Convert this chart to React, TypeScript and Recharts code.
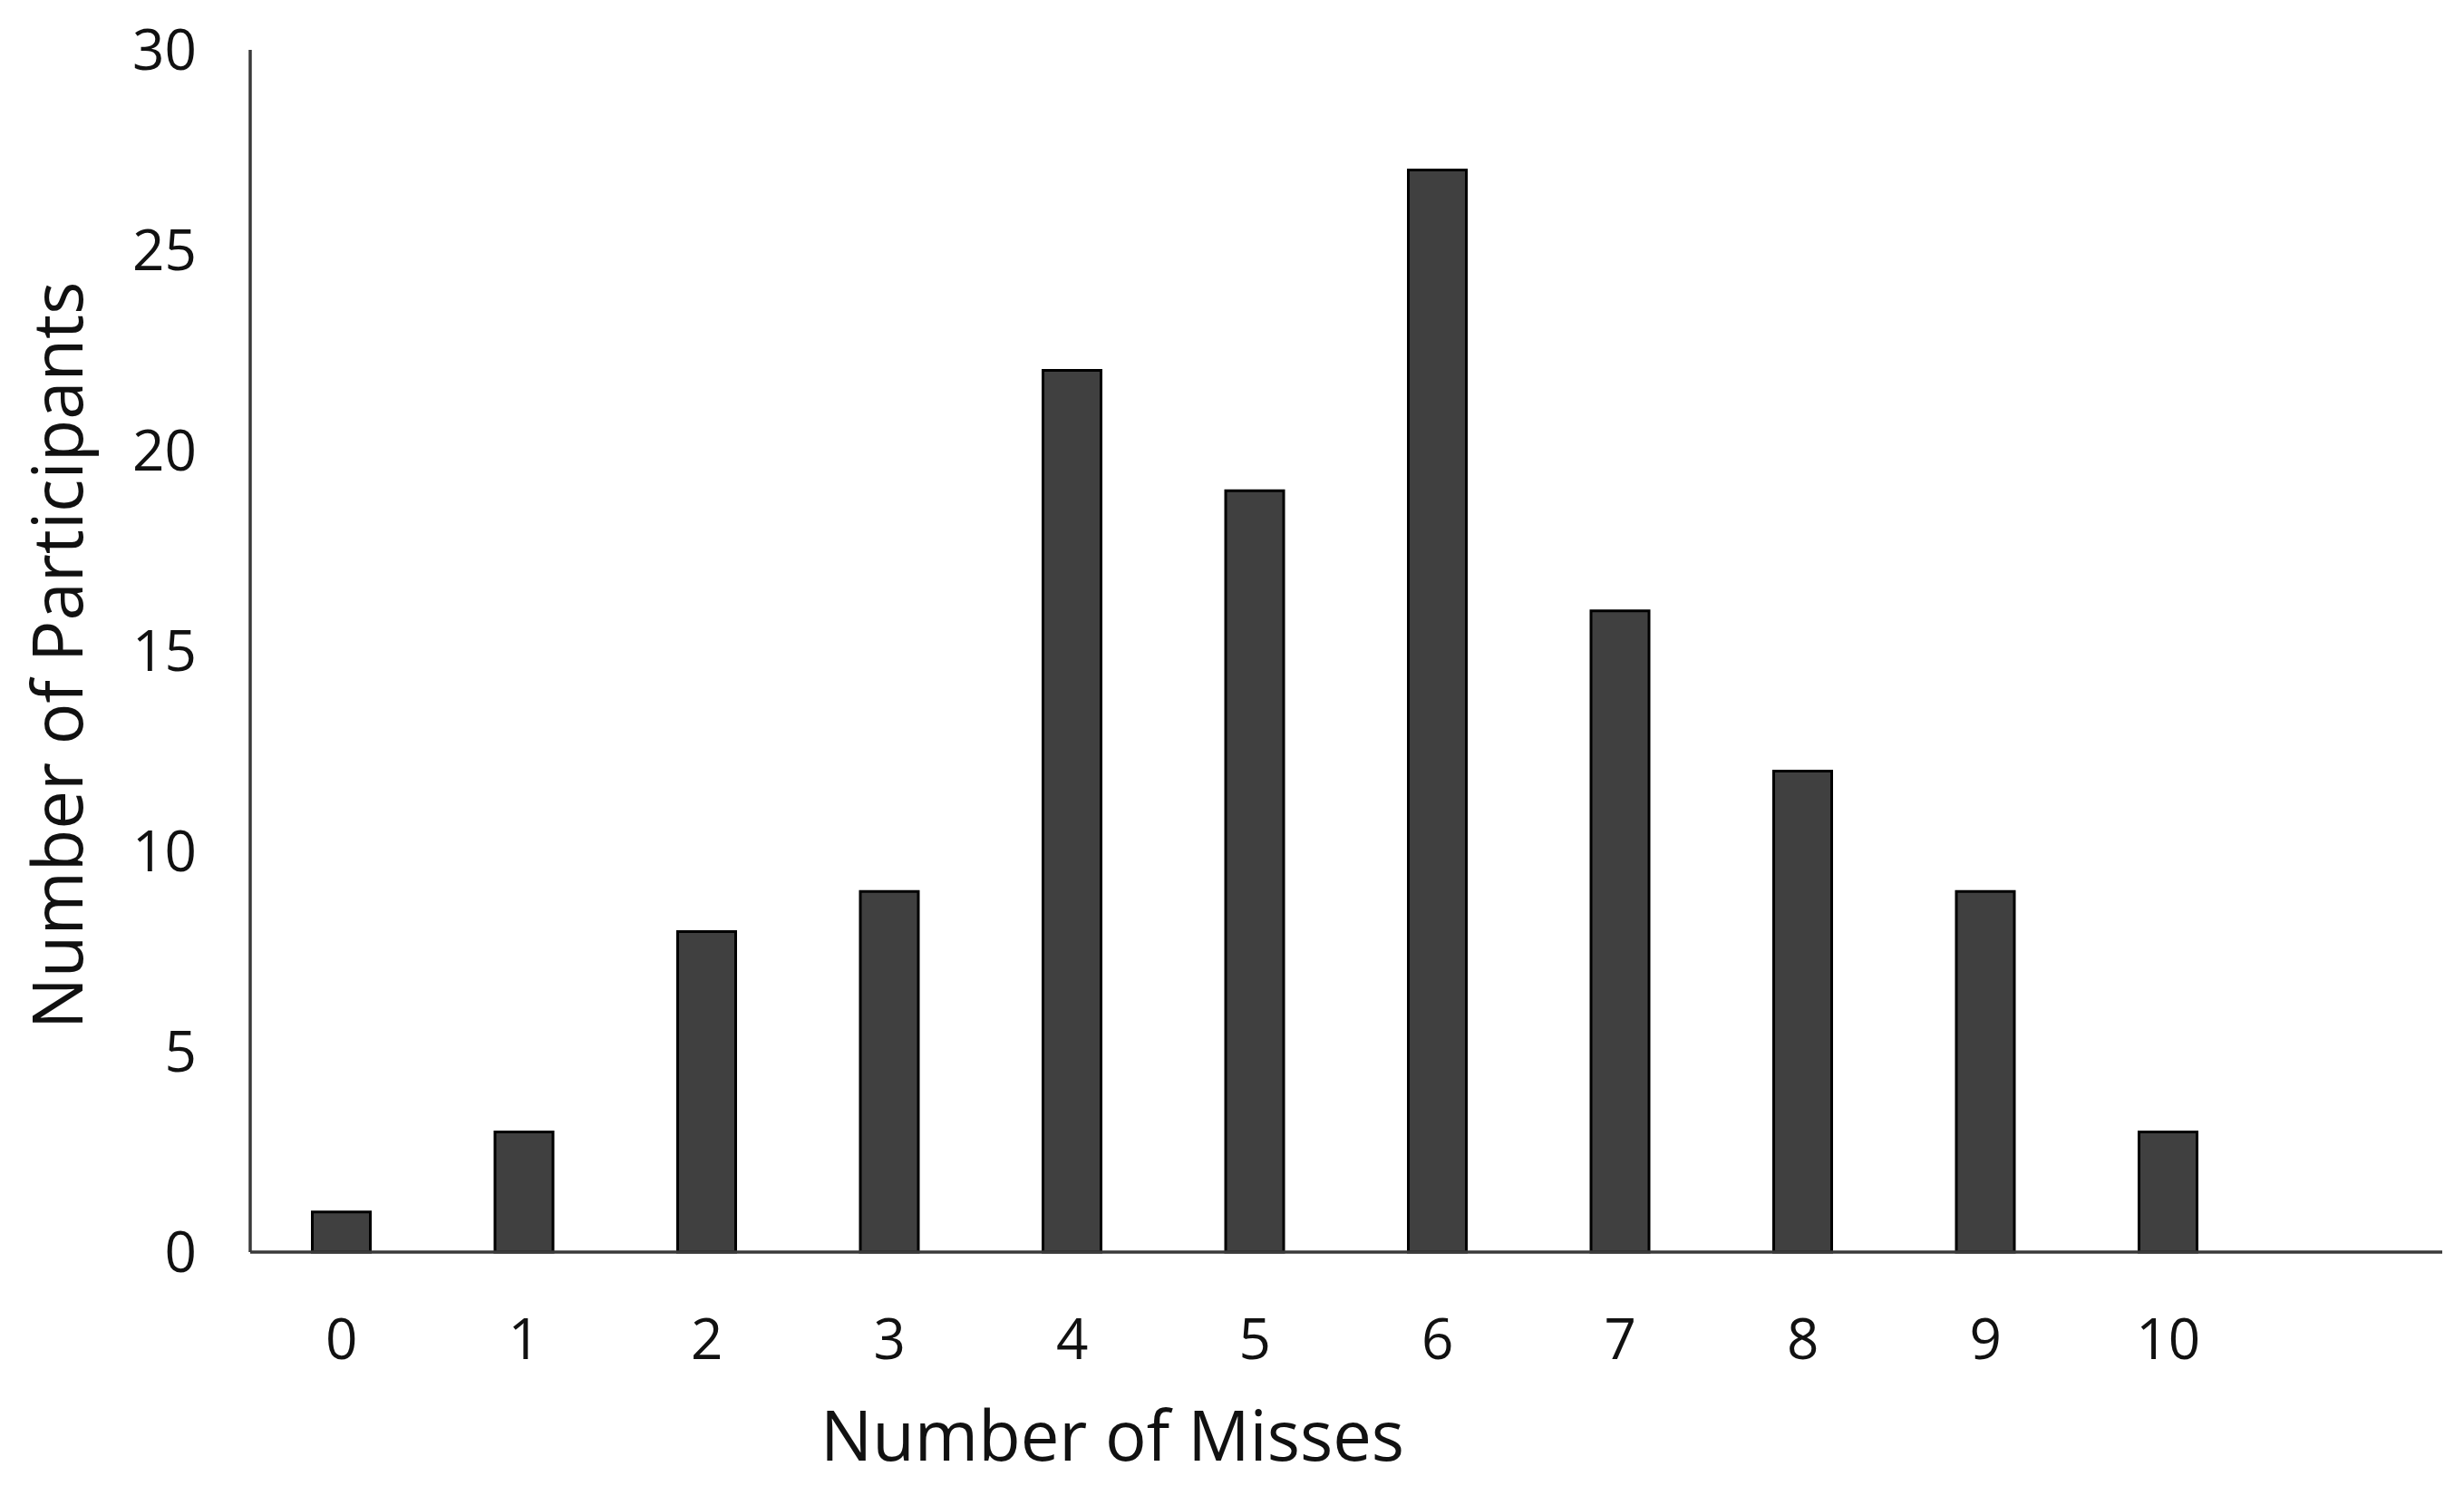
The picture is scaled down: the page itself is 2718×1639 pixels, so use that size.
import { Bar, BarChart, Label, XAxis, YAxis } from "recharts";

const misses = ["0", "1", "2", "3", "4", "5", "6", "7", "8", "9", "10", ""];
const participants = [1, 3, 8, 9, 22, 19, 27, 16, 12, 9, 3, null];
const yTicks = [0, 5, 10, 15, 20, 25, 30];

const data = misses.map((m, i) => ({ misses: m, participants: participants[i] }));

const font = "'Open Sans', sans-serif";

const App = () => {
    return (
        <div style={{ position: "absolute", left: 0, top: 0, background: "#fff" }}>
            <BarChart
                width={2718}
                height={1639}
                data={data}
                margin={{ top: 55, right: 24, bottom: 0, left: 0 }}
                barCategoryGap="34%"
            >
                <XAxis
                    dataKey="misses"
                    height={258}
                    tickLine={false}
                    tickSize={0}
                    tickMargin={74}
                    axisLine={{ stroke: "#3a3a3a", strokeWidth: 3.5 }}
                    tick={{ fill: "#111", fontSize: 62, fontFamily: font }}
                    interval={0}
                >
                    <Label
                        value="Number of Misses"
                        position="center"
                        dx={-258}
                        dy={74}
                        style={{ fill: "#111", fontSize: 76, fontFamily: font }}
                    />
                </XAxis>
                <YAxis
                    width={276}
                    domain={[0, 30]}
                    ticks={yTicks}
                    tickLine={false}
                    tickSize={0}
                    tickMargin={59}
                    axisLine={{ stroke: "#3a3a3a", strokeWidth: 3.5 }}
                    tick={{ fill: "#111", fontSize: 62, fontFamily: font }}
                >
                    <Label
                        value="Number of Participants"
                        position="center"
                        angle={-90}
                        dx={-74}
                        dy={5}
                        style={{ fill: "#111", fontSize: 76, fontFamily: font, textAnchor: "middle" }}
                    />
                </YAxis>
                <Bar
                    dataKey="participants"
                    fill="#404040"
                    stroke="#000"
                    strokeWidth={3}
                    isAnimationActive={false}
                />
            </BarChart>
        </div>
    );
};

export default App;
